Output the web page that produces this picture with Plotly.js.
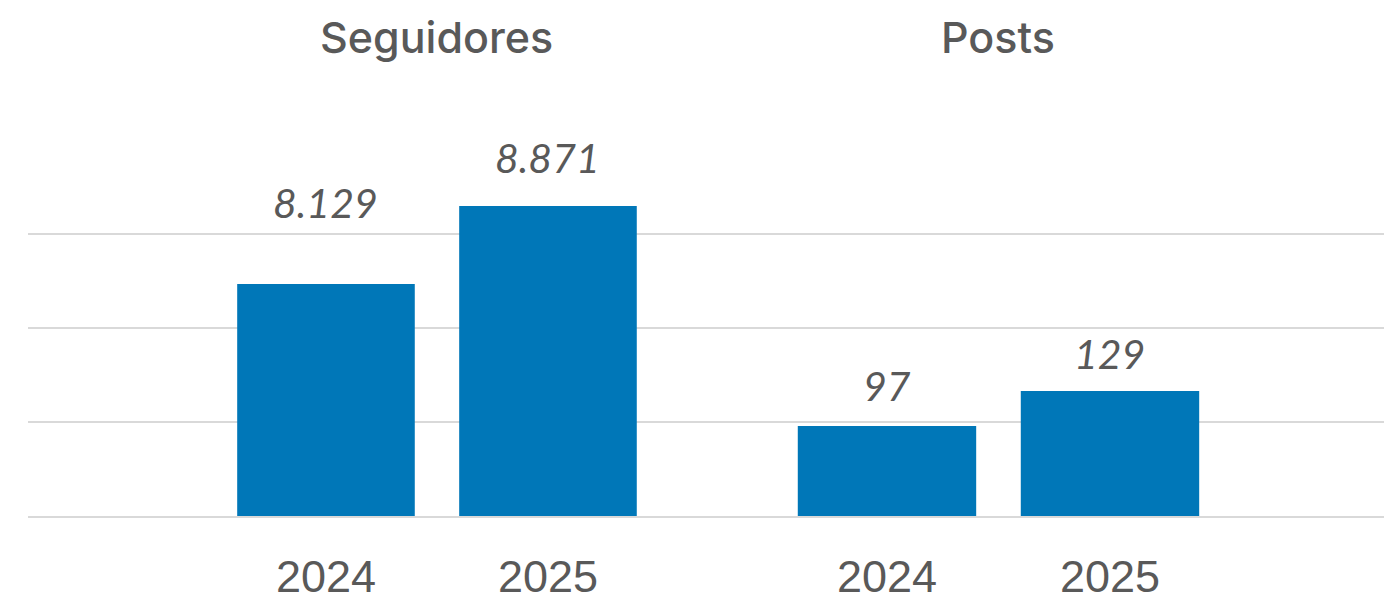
<!DOCTYPE html>
<html>
<head>
<meta charset="utf-8">
<script src="https://cdn.plot.ly/plotly-3.0.1.min.js"></script>
<style>
  html, body { margin: 0; padding: 0; background: #fff; }
  #graph { width: 1384px; height: 602px; }
</style>
</head>
<body>
<div id="graph"></div>
<script>
// data
var years = ["2024", "2025"];
var seguidores = [8129, 8871];
var posts = [97, 129];
var panelTitles = ["Seguidores", "Posts"];

// how far each value label sits above its bar (px), the original is uneven
var labelLift = [[55, 22], [14, 11]];

var barColor = "#0077b8";
var textColor = "#595959";
var gridColor = "#d9d9d9";

var traces = [
  {
    type: "bar", x: years, y: seguidores,
    xaxis: "x", yaxis: "y",
    marker: { color: barColor },
    hoverinfo: "x+y"
  },
  {
    type: "bar", x: years, y: posts,
    xaxis: "x2", yaxis: "y2",
    marker: { color: barColor },
    hoverinfo: "x+y"
  }
];

// value labels + panel titles
var annotations = [];
[seguidores, posts].forEach(function (vals, p) {
  var xr = p === 0 ? "x" : "x2";
  var yr = p === 0 ? "y" : "y2";
  vals.forEach(function (v, i) {
    annotations.push({
      x: i, y: v, xref: xr, yref: yr,
      text: v.toLocaleString("pt-BR"),
      showarrow: false, yanchor: "bottom", yshift: labelLift[p][i],
      font: { family: "Lato, sans-serif", size: 41, color: textColor, style: "italic" }
    });
  });
  annotations.push({
    x: 0.5, xref: xr, y: 1, yref: "paper",
    text: panelTitles[p], showarrow: false,
    yanchor: "bottom", yshift: 35,
    font: { family: "Inter, sans-serif", size: 43, color: textColor, weight: 500 }
  });
});

function xAxis(domain, range, anchor) {
  return {
    type: "category", domain: domain, range: range, anchor: anchor,
    showgrid: false, zeroline: false,
    showline: true, linecolor: gridColor, linewidth: 2,
    ticks: "", ticklabelstandoff: 20,
    tickfont: { family: "Liberation Sans, Arial, sans-serif", size: 45, color: textColor },
    fixedrange: true
  };
}
function yAxis(range, grid, anchor) {
  return {
    range: range, anchor: anchor, tickmode: "array", tickvals: grid,
    showticklabels: false, showgrid: true, gridcolor: gridColor, gridwidth: 2,
    zeroline: false, showline: false, ticks: "", fixedrange: true
  };
}

var layout = {
  width: 1384, height: 602,
  margin: { l: 28, r: 0, t: 100, b: 86 },
  paper_bgcolor: "#fff", plot_bgcolor: "#fff",
  showlegend: false,
  bargap: 0.2,
  xaxis: xAxis([0, 0.5081], [-1.3423, 1.7613], "y"),
  yaxis: yAxis([5922, 9879], [6815, 7708, 8601], "x"),
  xaxis2: xAxis([0.5081, 1], [-0.7623, 2.2287], "y2"),
  yaxis2: yAxis([14.7, 395.0], [100.55, 186.4, 272.25], "x2"),
  annotations: annotations
};

Plotly.newPlot("graph", traces, layout, { displayModeBar: false, staticPlot: true });
</script>
</body>
</html>
